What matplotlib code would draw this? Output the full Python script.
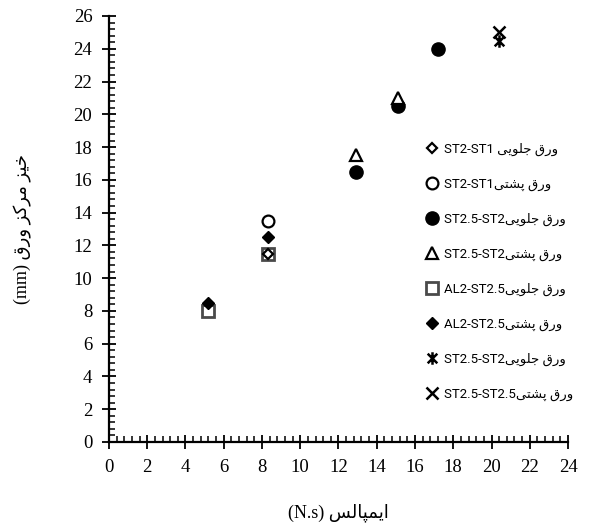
"""Plate centre deflection versus impulse for the tested plate pairs."""

import unicodedata

import matplotlib

matplotlib.use("Agg")
import matplotlib.pyplot as plt  # noqa: E402
from matplotlib.path import Path  # noqa: E402
from matplotlib.ticker import MultipleLocator  # noqa: E402

# Impulse (N.s) and centre deflection (mm) per series
front_st2_st1_x = [8.3]
front_st2_st1_y = [11.5]
back_st2_st1_x = [8.3]
back_st2_st1_y = [13.5]
front_st25_st2_x = [12.9, 15.1, 17.2]
front_st25_st2_y = [16.5, 20.5, 24.0]
back_st25_st2_x = [12.9, 15.1]
back_st25_st2_y = [17.5, 21.0]
front_al2_st25_x = [5.2, 8.3]
front_al2_st25_y = [8.0, 11.5]
back_al2_st25_x = [5.2, 8.3]
back_al2_st25_y = [8.5, 12.5]
front_st25_st2b_x = [20.4]
front_st25_st2b_y = [24.5]
back_st25_st25_x = [20.4]
back_st25_st25_y = [25.0]

X_TICKS = list(range(0, 25, 2))
Y_TICKS = list(range(0, 27, 2))

# --- minimal Persian shaping (matplotlib has no bidi / joining support) ---
_FORMS = {}
for _cp in list(range(0xFB50, 0xFE00)) + list(range(0xFE70, 0xFF00)):
    _d = unicodedata.decomposition(chr(_cp)).split()
    if len(_d) == 2 and _d[0] in ("<isolated>", "<final>", "<initial>", "<medial>"):
        _FORMS[(chr(int(_d[1], 16)), _d[0][1:-1])] = chr(_cp)
_RIGHT_ONLY = set("اآأإدذرزژوؤة")


def _is_ar(c):
    return "\u0600" <= c <= "\u06ff"


def fa(text):
    out = []
    for i, c in enumerate(text):
        if not _is_ar(c):
            out.append(c)
            continue
        prev = text[i - 1] if i > 0 else " "
        nxt = text[i + 1] if i + 1 < len(text) else " "
        jp = _is_ar(prev) and prev not in _RIGHT_ONLY
        jn = c not in _RIGHT_ONLY and _is_ar(nxt)
        form = "medial" if jp and jn else "final" if jp else "initial" if jn else "isolated"
        out.append(_FORMS.get((c, form), _FORMS.get((c, "isolated"), c)))
    return "".join(reversed(out))


FRONT = fa("ورق جلویی")
BACK = fa("ورق پشتی")
LABELS = [
    "ST2-ST1 " + FRONT,
    "ST2-ST1" + BACK,
    "ST2.5-ST2" + FRONT,
    "ST2.5-ST2" + BACK,
    "AL2-ST2.5" + FRONT,
    "AL2-ST2.5" + BACK,
    "ST2.5-ST2" + FRONT,
    "ST2.5-ST2.5" + BACK,
]

# Excel-like star: an X with a vertical bar through it
STAR = Path(
    [(-1, -1), (1, 1), (-1, 1), (1, -1), (0, -1.3), (0, 1.3)],
    [Path.MOVETO, Path.LINETO, Path.MOVETO, Path.LINETO, Path.MOVETO, Path.LINETO],
)

SERIF = ["Liberation Serif", "DejaVu Sans"]

fig = plt.figure(figsize=(5.91, 5.24), dpi=100)
ax = fig.add_axes([0.1844, 0.1565, 0.7767, 0.8130])

k = dict(linestyle="none", markeredgecolor="black", zorder=3, clip_on=False)
ax.plot(front_st2_st1_x, front_st2_st1_y, marker="D", ms=5.5, mfc="white", mew=1.6,
        label=LABELS[0], **k)
ax.plot(back_st2_st1_x, back_st2_st1_y, marker="o", ms=8.5, mfc="white", mew=1.6,
        label=LABELS[1], **k)
ax.plot(front_st25_st2_x, front_st25_st2_y, marker="o", ms=9.5, mfc="black", mew=1,
        label=LABELS[2], **k)
ax.plot(back_st25_st2_x, back_st25_st2_y, marker="^", ms=8.5, mfc="white", mew=1.6,
        label=LABELS[3], **k)
ax.plot(front_al2_st25_x, front_al2_st25_y, marker="s", ms=9, mfc="none", mew=2,
        linestyle="none", markeredgecolor="#4a4a4a", zorder=2, clip_on=False,
        label=LABELS[4])
ax.plot(back_al2_st25_x, back_al2_st25_y, marker="D", ms=6.5, mfc="black", mew=1,
        label=LABELS[5], **k)
ax.plot(front_st25_st2b_x, front_st25_st2b_y, marker=STAR, ms=9, mew=1.8,
        label=LABELS[6], **k)
ax.plot(back_st25_st25_x, back_st25_st25_y, marker="x", ms=8, mew=1.8,
        label=LABELS[7], **k)

ax.set_xlim(0, 24)
ax.set_ylim(0, 26)
ax.set_xticks(X_TICKS)
ax.set_yticks(Y_TICKS)
ax.xaxis.set_minor_locator(MultipleLocator(0.4))
ax.yaxis.set_minor_locator(MultipleLocator(0.4))
ax.tick_params(which="major", direction="inout", length=10, width=1.3, pad=7,
               labelsize=13.5)
ax.tick_params(which="minor", direction="in", length=4, width=1.1)
for lab in ax.get_xticklabels() + ax.get_yticklabels():
    lab.set_fontfamily("Liberation Serif")

for side in ("top", "right"):
    ax.spines[side].set_visible(False)
for side in ("left", "bottom"):
    ax.spines[side].set_linewidth(1.6)

ax.set_xlabel("(N.s) " + fa("ایمپالس"), family=SERIF, fontsize=13, labelpad=20)
ax.set_ylabel("(mm) " + fa("خیز مرکز ورق"), family=SERIF, fontsize=13, labelpad=30)

leg = ax.legend(loc="upper left", bbox_to_anchor=(0.69, 0.702), frameon=False,
                prop={"family": ["Roboto", "DejaVu Sans"], "size": 9.5},
                labelspacing=1.65, handlelength=1.0, handletextpad=0.4,
                borderpad=0, borderaxespad=0)

fig.savefig("out.png", dpi=100)
